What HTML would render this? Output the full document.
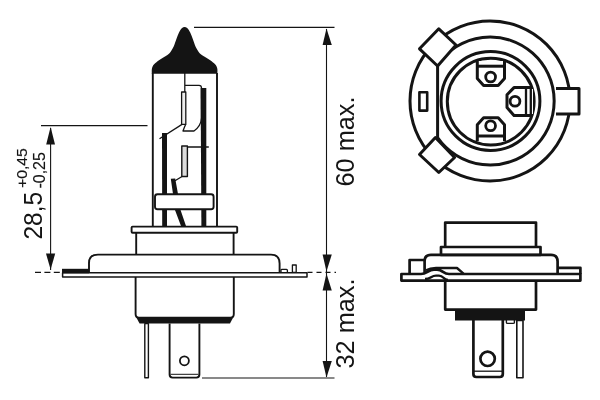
<!DOCTYPE html>
<html>
<head>
<meta charset="utf-8">
<title>H4 bulb dimensions</title>
<style>
html,body{margin:0;padding:0;background:#fff;}
body{width:600px;height:400px;overflow:hidden;}
svg{display:block;}
text{font-family:"Liberation Sans",sans-serif;fill:#141414;}
svg{filter:grayscale(1);}
</style>
</head>
<body>
<svg width="600" height="400" viewBox="0 0 600 400">
<rect width="600" height="400" fill="#fff"/>

<!-- ===== LEFT VIEW : bulb ===== -->
<g fill="none" stroke="#141414" stroke-width="1.9" stroke-linejoin="round" stroke-linecap="butt">
  <!-- black cap -->
  <path fill="#141414" stroke="none" d="M151.8,73.7 C151.8,72.4 151.7,70.6 151.8,69.5 C151.9,68.4 152.1,67.5 152.6,66.5 C153.1,65.5 153.6,64.8 154.6,63.8 C155.6,62.8 157.2,61.5 158.6,60.5 C160.0,59.5 161.8,58.4 163.3,57.5 C164.8,56.6 166.1,56.0 167.4,55.0 C168.7,54.0 169.8,52.9 171.0,51.2 C172.2,49.6 173.4,47.1 174.3,45.0 C175.2,42.9 175.7,40.8 176.5,38.8 C177.3,36.7 178.1,34.3 179.0,32.5 C179.9,30.7 180.9,29.1 181.8,28.2 C182.7,27.3 183.7,26.9 184.6,26.9 C185.5,26.9 186.5,27.3 187.4,28.2 C188.3,29.1 189.3,30.7 190.2,32.5 C191.1,34.3 191.9,36.7 192.7,38.8 C193.5,40.8 194.0,42.9 194.9,45.0 C195.8,47.1 197.0,49.6 198.2,51.2 C199.3,52.9 200.5,54.0 201.8,55.0 C203.1,56.0 204.4,56.6 205.9,57.5 C207.4,58.4 209.2,59.5 210.6,60.5 C212.0,61.5 213.6,62.8 214.6,63.8 C215.6,64.8 216.1,65.5 216.6,66.5 C217.1,67.5 217.3,68.4 217.4,69.5 C217.5,70.6 217.4,72.4 217.4,73.7 Z"/>
  <!-- glass walls -->
  <path d="M152.8,73 V226.6 M217,73 V226.6"/>
  <!-- top wire + shield -->
  <path stroke-width="1.3" d="M184.8,73 V92 M184.8,85.3 H199 Q201.5,85.3 201.5,88 V118 Q201,126 194,131 H183 Q184,128 185.6,124.4"/>
  <!-- right thick bar -->
  <path stroke="none" fill="#141414" d="M200.6,88 H206.3 V226.6 H201.4 Z"/>
  <!-- upper filament -->
  <rect x="181.6" y="92" width="4.2" height="32.4" fill="#ececec" stroke-width="1.3"/>
  <path stroke-width="1.3" d="M182,124.4 L159.5,138.8"/>
  <!-- left thick post -->
  <path stroke="none" fill="#141414" d="M162,133 H167 V226.6 H162.2 Z"/>
  <!-- lower filament -->
  <rect x="181.8" y="146" width="5.6" height="30.5" fill="#dcdcdc" stroke-width="1.4"/>
  <path stroke-width="1.3" d="M187.4,147 H208.8 M182,176.5 L175,180.8"/>
  <!-- slanted middle post -->
  <path stroke="none" fill="#141414" d="M170.8,178.8 L175.2,178.4 L178,194 L180.2,209 L186,226 L181,226 L174.6,209 L173,194 Z"/>
  <!-- bridge -->
  <rect x="155" y="194.2" width="58.6" height="15" rx="2.5" ry="2.5" fill="#fff"/>
  <!-- collar -->
  <rect x="131.6" y="226.6" width="105.6" height="6.2" rx="1" fill="#fff"/>
  <!-- neck walls -->
  <path d="M136.2,232.8 V255 M233.6,232.8 V255"/>
  <!-- dome -->
  <path d="M89,272.6 V263 Q89,254.6 98,254.6 H271 Q279.6,254.6 279.6,263.5 V272.6"/>
  <!-- flange plate -->
  <path stroke-width="1.5" d="M62.6,272.7 H307 V277 H62.6 Z"/>
  <path stroke="none" fill="#141414" d="M62,268.8 H89 V273.3 H62 Z"/>
  <!-- small tabs right on plate -->
  <path stroke-width="1.3" d="M281,272 V270 Q281,269.4 282,269.4 H286.5 Q287.4,269.4 287.4,270.4 V272"/>
  <rect x="292.4" y="265" width="3.8" height="7.4" stroke-width="1.3" fill="#fff"/>
  <!-- lower body -->
  <path d="M135.6,277 V314 Q135.6,317.6 139,317.6 H230.4 Q233.8,317.6 233.8,314 V277"/>
  <path stroke="none" fill="#141414" d="M136,317 H233.4 L230,323.6 H139.6 Z"/>
  <!-- thin pin -->
  <rect x="144.8" y="323.6" width="3.6" height="54.2" stroke-width="1.4" fill="#fff"/>
  <!-- blade -->
  <path d="M169.6,323.6 V374.5 Q169.6,377.6 172.6,377.6 H196.4 Q199.4,377.6 199.4,374.5 V323.6"/>
  <path stroke-width="1" d="M170.5,374.3 H198.5"/>
  <circle cx="184.4" cy="360.8" r="4.5" stroke-width="1.8"/>
</g>

<!-- ===== dimension lines ===== -->
<g fill="none" stroke="#141414" stroke-width="1.1">
  <!-- 28,5 -->
  <path d="M41,125.6 H147.5"/>
  <path d="M50.6,128 V270"/>
  <path d="M35,272.4 H60" stroke-dasharray="6,3.4"/>
  <!-- 60 / 32 -->
  <path d="M194,27.4 H334.5"/>
  <path d="M326.5,29 V377"/>
  <path d="M202,378 H334.5"/>
  <path d="M307.5,272.4 H336" stroke-dasharray="5,4"/>
</g>
<g fill="#141414" stroke="none">
  <path d="M50.6,127 L55,144.6 H46.2 Z"/>
  <path d="M50.6,269.4 L55.2,253.6 H46 Z"/>
  <path d="M326.5,28.4 L331.8,45 H322.6 Z"/>
  <path d="M326.5,271.4 L331.8,254.4 H322.6 Z"/>
  <path d="M326.5,273.4 L331.8,290.6 H322.6 Z"/>
  <path d="M326.5,377.6 L331.8,361 H322.6 Z"/>
</g>

<!-- ===== text ===== -->
<text transform="translate(42.3,239.6) rotate(-90) scale(0.93,1)" font-size="26.4">28,5</text>
<text transform="translate(27.3,188) rotate(-90) scale(1.05,1)" font-size="15" stroke="#141414" stroke-width="0.15">+0,45</text>
<text transform="translate(44.9,188.6) rotate(-90) scale(1.0,1)" font-size="16" stroke="#141414" stroke-width="0.15">-0,25</text>
<text transform="translate(353.6,186.6) rotate(-90) scale(0.957,1)" font-size="26.5">60 max.</text>
<text transform="translate(353.8,368.6) rotate(-90) scale(0.957,1)" font-size="26.5">32 max.</text>

<!-- ===== TOP RIGHT VIEW : base ===== -->
<g fill="none" stroke="#141414" stroke-width="3" stroke-linejoin="round">
  <circle cx="490" cy="101" r="80"/>
  <!-- right tab -->
  <path fill="#fff" d="M553,88.6 H579 V114 H553 Z"/>
  <path fill="#fff" stroke="none" d="M545,80 H556 V122 H545 Z"/>
  <!-- second circle with chord on the left -->
  <path d="M437.6,64.5 A64,64 0 1 1 437.6,137.5 Z" fill="#fff"/>
  <!-- tabs on the left -->
  <path fill="#fff" d="M438.8,28.8 L419.5,48.8 L437.6,66 L456,45 Z"/>
  <path fill="#fff" d="M435.4,137.5 L419.5,154.5 L438.8,172.5 L454.6,157.5 Z"/>
  <rect x="419.4" y="92.2" width="7.8" height="18.4" stroke-width="2.6"/>
  <!-- inner rings -->
  <circle cx="490.5" cy="101" r="49.4" stroke-width="3"/>
  <circle cx="490.7" cy="101.6" r="43.4" stroke-width="3"/>
  <!-- top terminal -->
  <g stroke-width="3">
  <path fill="#fff" d="M477.3,61 V78.4 L483.6,85.4 H498.2 L504.5,78.4 V61"/>
  <path d="M477.3,66.2 H504.5"/>
  <circle cx="490.6" cy="77" r="4.9" stroke-width="2.8"/>
  <!-- bottom terminal -->
  <path fill="#fff" d="M477.3,141 V124.8 L483.6,117.8 H498.2 L504.5,124.8 V141"/>
  <path d="M477.3,136 H504.5"/>
  <circle cx="490.6" cy="125.8" r="4.9" stroke-width="2.8"/>
  <!-- right terminal -->
  <path fill="#fff" d="M533,87.6 H514 L507,94.8 V107.6 L514,115.4 H533"/>
  <path d="M526,87.6 V115.4 M530.8,87.6 V115.4" stroke-width="2.3"/>
  <circle cx="515" cy="101.2" r="4.9" stroke-width="2.8"/>
  </g>
</g>

<!-- ===== BOTTOM RIGHT VIEW : side ===== -->
<g fill="none" stroke="#141414" stroke-width="2.7" stroke-linejoin="round">
  <!-- top box -->
  <path d="M445.2,247 V222.6 H536 V247"/>
  <!-- collar -->
  <rect x="441" y="247" width="99.5" height="8" fill="#fff"/>
  <!-- dome -->
  <path d="M424.6,273 V261 Q424.6,254.8 431,254.8 H551 Q557.6,254.8 557.6,261.5 V273"/>
  <!-- small rect on left -->
  <path d="M424.6,260 H409.6 V273"/>
  <!-- plate with hump -->
  <path d="M401.4,274 H421 C427,274 428,269.6 434,269.6 H437 C443,269.6 443,274 449,274 H580.4 V280.6 H401.4 Z" fill="#fff"/>
  <path d="M425,279 C431,279 431,275.6 436,275.6 H439 C444,275.6 443,280 448,280" stroke-width="2.4"/>
  <!-- right tab -->
  <path d="M557.6,267.8 H580.4 V274"/>
  <!-- upper clip -->
  <path d="M426,270.4 Q430,268 436,268 H457 L463.5,273.6" stroke-width="2.4"/>
  <!-- body -->
  <path d="M445.2,280.6 V309.6 H536 V280.6"/>
  <path stroke="none" fill="#141414" d="M455,309 H525 V320.4 H455 Z"/>
  <!-- blade -->
  <path d="M473.4,320 V374 Q473.4,377 476.4,377 H499.8 Q502.8,377 502.8,374 V320"/>
  <path d="M474,371.2 H502" stroke-width="1.3"/>
  <circle cx="487.6" cy="358.8" r="7.2"/>
  <!-- bump -->
  <path d="M506.4,320 V322.4 Q506.4,323.4 507.6,323.4 H513 Q514.4,323.4 514.4,322.4 V320" stroke-width="1.4"/>
  <!-- thin pin -->
  <rect x="516.8" y="320.4" width="6.2" height="57.4" stroke-width="1.6" fill="#fff"/>
</g>
</svg>
</body>
</html>
